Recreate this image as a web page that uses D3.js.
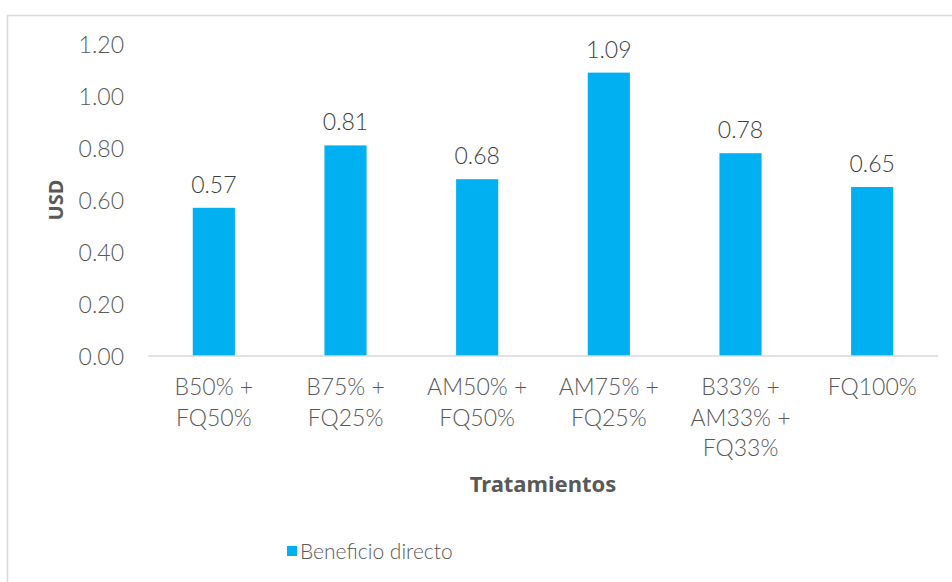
<!DOCTYPE html>
<html>
<head>
<meta charset="utf-8">
<script src="https://cdn.jsdelivr.net/npm/d3@7"></script>
<style>
  html, body { margin: 0; padding: 0; background: #fff; }
  svg { display: block; font-family: "Noto Sans", sans-serif; }
  .lt { font-weight: 300; }
</style>
</head>
<body>
<svg id="chart" width="952" height="582"></svg>
<script>
const categories = [
  ["B50% +", "FQ50%"],
  ["B75% +", "FQ25%"],
  ["AM50% +", "FQ50%"],
  ["AM75% +", "FQ25%"],
  ["B33% +", "AM33% +", "FQ33%"],
  ["FQ100%"]
];
const values = [0.57, 0.81, 0.68, 1.09, 0.78, 0.65];
const yTicks = [0, 0.2, 0.4, 0.6, 0.8, 1.0, 1.2];
const seriesName = "Beneficio directo";
const xTitle = "Tratamientos";
const yTitle = "USD";

const svg = d3.select("#chart");
const barColor = "#00B0F0";
const textColor = "#595959";
const lightFont = "Lato, 'Noto Sans', sans-serif";

// chart border
svg.append("rect")
  .attr("x", 7.5).attr("y", 15.5)
  .attr("width", 960).attr("height", 600)
  .attr("fill", "none").attr("stroke", "#d9d9d9").attr("stroke-width", 1.5);

const plot = { left: 148, right: 938, top: 44, bottom: 356 };

const x = d3.scaleBand()
  .domain(d3.range(categories.length))
  .range([plot.left, plot.right])
  .paddingInner(0.68).paddingOuter(0.34);

const y = d3.scaleLinear().domain([0, 1.2]).range([plot.bottom, plot.top]);

// bars
svg.append("g").selectAll("rect").data(values).join("rect")
  .attr("x", (d, i) => x(i))
  .attr("y", d => y(d))
  .attr("width", x.bandwidth())
  .attr("height", d => y(0) - y(d))
  .attr("fill", barColor);

// value labels
svg.append("g").selectAll("text").data(values).join("text")
  .attr("class", "lt")
  .attr("x", (d, i) => x(i) + x.bandwidth() / 2)
  .attr("y", d => y(d) - 15)
  .attr("text-anchor", "middle")
  .attr("font-family", lightFont)
  .attr("font-size", 23)
  .attr("fill", "#404040")
  .text(d => d.toFixed(2));

// baseline
svg.append("line")
  .attr("x1", plot.left).attr("x2", plot.right)
  .attr("y1", y(0)).attr("y2", y(0))
  .attr("stroke", "#d9d9d9").attr("stroke-width", 1.5);

// y axis
const yAxis = d3.axisLeft(y).tickValues(yTicks).tickFormat(d3.format(".2f")).tickSize(0).tickPadding(0);
const yg = svg.append("g").attr("transform", "translate(124,0)").call(yAxis);
yg.select(".domain").remove();
yg.selectAll("text")
  .attr("class", "lt")
  .attr("font-size", 23)
  .attr("font-family", lightFont)
  .attr("fill", textColor)
  .attr("dy", "0.36em");

// x axis labels
const xg = svg.append("g");
categories.forEach((lines, i) => {
  const t = xg.append("text")
    .attr("class", "lt")
    .attr("text-anchor", "middle")
    .attr("font-family", lightFont)
    .attr("font-size", 23)
    .attr("fill", textColor);
  lines.forEach((ln, j) => {
    t.append("tspan")
      .attr("x", x(i) + x.bandwidth() / 2)
      .attr("y", 395 + j * 30.5)
      .text(ln);
  });
});

// axis titles
svg.append("text")
  .attr("x", (plot.left + plot.right) / 2)
  .attr("y", 492)
  .attr("text-anchor", "middle")
  .attr("font-size", 22)
  .attr("font-weight", "bold")
  .attr("fill", textColor)
  .text(xTitle);

svg.append("text")
  .attr("transform", "translate(63,200) rotate(-90)")
  .attr("text-anchor", "middle")
  .attr("font-size", 20)
  .attr("font-weight", "bold")
  .attr("fill", textColor)
  .text(yTitle);

// legend
const lg = svg.append("g");
lg.append("rect")
  .attr("x", 287).attr("y", 546)
  .attr("width", 10).attr("height", 10)
  .attr("fill", barColor);
lg.append("text")
  .attr("class", "lt")
  .attr("x", 300).attr("y", 559)
  .attr("font-family", lightFont)
  .attr("font-size", 21)
  .attr("fill", textColor)
  .text(seriesName);
</script>
</body>
</html>
